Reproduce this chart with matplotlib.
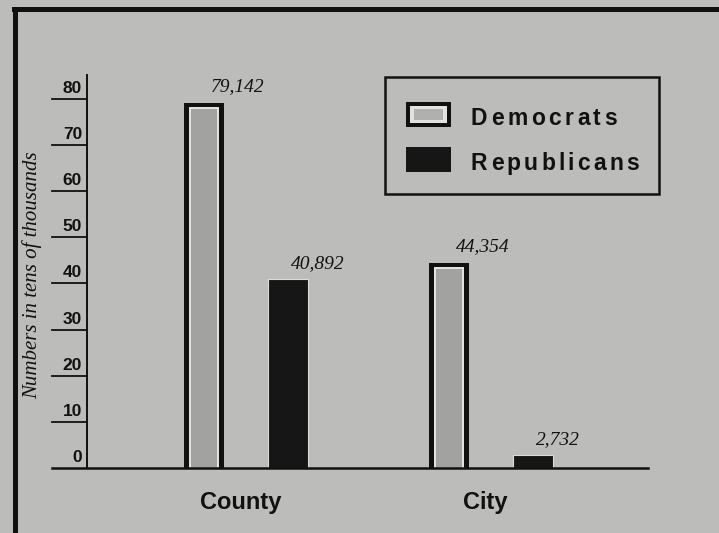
import matplotlib
matplotlib.use("Agg")
import matplotlib.pyplot as plt
import numpy as np
from matplotlib.lines import Line2D
from matplotlib.patches import Rectangle

categories = ["County", "City"]
democrats = [79142, 44354]
republicans = [40892, 2732]
yticks = [0, 10, 20, 30, 40, 50, 60, 70, 80]
legend_labels = ["Democrats", "Republicans"]
ylabel = "Numbers in tens of thousands"

W, H = 719, 533
BG = "#bcbcba"
INK = "#111111"
SANS = "Liberation Sans"
SERIF = "Liberation Serif"

fig = plt.figure(figsize=(W / 100, H / 100), dpi=100, facecolor=BG)

def fx(x):
    return x / W

def fy(y):
    return 1 - y / H

# axes box: baseline at y=468px, x from 52 to 648px
ax = fig.add_axes([fx(52), fy(468), 596 / W, 393 / H])
ax.set_facecolor(BG)
ax.set_xlim(-0.792, 1.641)
ax.set_ylim(0, 85.2)
ax.axis("off")

dx = 1 / 245.0      # data units per pixel, x
dy = 85.2 / 393.0   # data units per pixel, y

x = np.arange(len(categories))
off = 0.171
bw = 0.161
dem = np.array(democrats) / 1000
rep = np.array(republicans) / 1000

# democrat bars: black frame, light gap, grey fill
ax.bar(x - off, dem, width=bw, color=INK, linewidth=0)
ax.bar(x - off, dem - 4 * dy, width=bw - 9 * dx, color="#e2e2e0", linewidth=0)
ax.bar(x - off, dem - 6 * dy, width=bw - 14 * dx, color="#a2a2a0", linewidth=0)
# republican bars
ax.bar(x + off, rep, width=0.163, color="#161616", edgecolor="#dcdcda", linewidth=0.8)

for xc, v, h in zip(x - off, democrats, dem):
    ax.annotate(f"{v:,}", (xc, h), xytext=(7, 8), textcoords="offset pixels",
                ha="left", va="bottom", family=SERIF, style="italic", fontsize=14, color=INK)
for xc, v, h in zip(x + off, republicans, rep):
    ax.annotate(f"{v:,}", (xc, h), xytext=(3, 7), textcoords="offset pixels",
                ha="left", va="bottom", family=SERIF, style="italic", fontsize=14, color=INK)

# axis lines and long ticks to the left
yspine = -0.649
ax.plot([yspine, yspine], [0, 85.2], color=INK, lw=1.4, clip_on=False)
ax.plot([-0.792, 1.641], [0, 0], color=INK, lw=1.8, clip_on=False)
for t in yticks:
    if t > 0:
        ax.plot([-0.792, yspine], [t, t], color=INK, lw=1.3, clip_on=False)
    ax.text(yspine - 5 * dx, t + 3 * dy, str(t), ha="right", va="bottom",
            family=SANS, weight="bold", fontsize=12.5, color=INK)

for xc, name in zip(x, categories):
    ax.text(xc - 0.022, -0.089, name, transform=ax.get_xaxis_transform(),
            ha="center", va="center", family=SANS, weight="bold", fontsize=17, color=INK)

fig.text(fx(32), fy(275), ylabel, rotation=90, ha="center", va="center",
         family=SERIF, style="italic", fontsize=15, color=INK)

# outer frame (left and top)
fig.add_artist(Line2D([fx(15), fx(15)], [0, fy(9)], lw=3.6, color=INK))
fig.add_artist(Line2D([fx(13.7), 1], [fy(9), fy(9)], lw=3.6, color=INK))

# legend
fig.add_artist(Rectangle((fx(385), fy(194)), 274 / W, 117 / H, fill=False,
                         lw=1.8, edgecolor=INK, transform=fig.transFigure))
fig.add_artist(Rectangle((fx(406), fy(127)), 45 / W, 25 / H, color=INK,
                         lw=0, transform=fig.transFigure))
fig.add_artist(Rectangle((fx(410), fy(123)), 37 / W, 17 / H, color="#e2e2e0",
                         lw=0, transform=fig.transFigure))
fig.add_artist(Rectangle((fx(414), fy(120)), 29 / W, 11 / H, color="#b0b0ae",
                         lw=0, transform=fig.transFigure))
fig.add_artist(Rectangle((fx(406), fy(172)), 45 / W, 25 / H, color="#161616",
                         lw=0, transform=fig.transFigure))

renderer = fig.canvas.get_renderer()

def spaced(x0, y0, s, target):
    texts = [fig.text(fx(x0), fy(y0), ch, ha="left", va="baseline", family=SANS,
                      weight="bold", fontsize=16.5, color=INK) for ch in s]
    widths = [t.get_window_extent(renderer).width for t in texts]
    gap = (target - sum(widths)) / (len(s) - 1)
    xx = x0
    for t, w in zip(texts, widths):
        t.set_x(fx(xx))
        xx += w + gap

spaced(471, 125, legend_labels[0], 146)
spaced(471, 170, legend_labels[1], 168)

fig.savefig("out.png", dpi=100, facecolor=BG)
